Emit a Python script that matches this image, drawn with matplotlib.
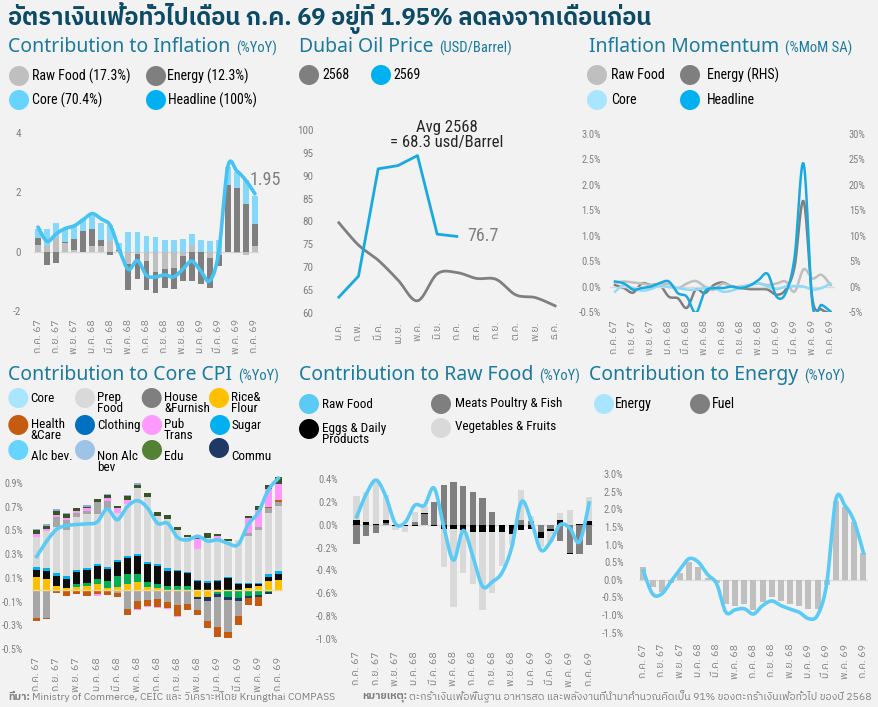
import numpy as np
import matplotlib
matplotlib.use('Agg')
import matplotlib.pyplot as plt
from matplotlib import font_manager as fm
from matplotlib.patches import Ellipse

# ---------------- DATA ----------------
months_lbl = ['ก.ค. 67', 'ก.ย. 67', 'พ.ย. 67', 'ม.ค. 68', 'มี.ค. 68', 'พ.ค. 68', 'ก.ค. 68',
              'ก.ย. 68', 'พ.ย. 68', 'ม.ค. 69', 'มี.ค. 69', 'พ.ค. 69', 'ก.ค. 69']
n_months = 25

# Contribution to Inflation (%YoY)
infl_raw = [0.22, 0.20, 0.45, 0.30, 0.05, 0.00, 0.20, 0.20, 0.35, 0.03, -0.41, -0.08, -0.30,
            -0.67, -0.60, -0.55, -0.15, 0.20, -0.02, -0.20, -0.10, 0.00, -0.05, -0.12, 0.20]
infl_energy = [0.25, -0.45, -0.38, 0.02, 0.38, 0.68, 0.55, 0.18, -0.12, 0.02, -0.89, -0.85, -1.00,
               -0.71, -0.62, -0.72, -0.85, -0.99, -1.08, -1.04, -0.37, 2.25, 2.15, 1.60, 0.74]
infl_core = [0.28, 0.58, 0.50, 0.48, 0.45, 0.42, 0.45, 0.60, 0.55, 0.25, 0.65, 0.65, 0.52,
             0.50, 0.40, 0.40, 0.42, 0.39, 0.40, 0.37, 0.40, 0.62, 0.55, 0.80, 0.93]
infl_headline = [0.83, 0.35, 0.60, 0.78, 0.87, 1.08, 1.28, 1.10, 0.88, 0.05, -0.60, -0.30, -0.80,
                 -0.85, -0.78, -0.85, -0.60, -0.32, -0.65, -0.98, 0.00, 2.87, 2.72, 2.40, 1.95]

# Dubai oil price (USD/Barrel)
oil_months = ['ม.ค.', 'ก.พ.', 'มี.ค.', 'เม.ย.', 'พ.ค.', 'มิ.ย.', 'ก.ค.', 'ส.ค.', 'ก.ย.', 'ต.ค.', 'พ.ย.', 'ธ.ค.']
oil_2568 = [79.7, 74.8, 71.5, 67.2, 62.6, 68.5, 68.8, 67.5, 67.3, 63.9, 63.3, 61.5]
oil_2569 = [63.4, 68.0, 91.5, 92.2, 94.4, 77.2, 76.7]

# Inflation momentum (%MoM SA)
mom_headline = [0.10, 0.06, -0.06, -0.03, 0.00, 0.07, 0.10, -0.13, -0.20, -0.52, -0.10, -0.03, -0.03,
                0.00, -0.03, 0.02, 0.13, 0.25, -0.20, -0.13, 0.58, 2.42, -0.36, -0.36, -0.49]
mom_energy = [0.3, -0.3, -1.2, 0.6, 0.3, 0.3, -2.0, -2.3, -4.2, -0.6, -1.3, 0.3, 0.8,
              0.0, -0.3, -0.5, -0.5, -0.6, -1.6, -0.6, 3.9, 16.8, -2.6, -4.5, -5.3]
mom_raw = [0.08, 0.10, 0.08, 0.06, 0.03, 0.05, 0.05, -0.03, 0.06, 0.11, 0.00, -0.06, 0.06,
           0.00, 0.00, 0.03, 0.06, 0.03, 0.06, 0.10, -0.10, 0.34, 0.16, 0.23, 0.03]
mom_core = [-0.10, 0.03, -0.03, -0.08, -0.05, 0.02, -0.01, -0.03, -0.06, -0.06, -0.03, -0.03, -0.10,
            -0.08, -0.02, 0.03, 0.06, 0.00, -0.05, 0.00, 0.01, 0.00, -0.06, -0.03, 0.06]

# Contribution to Core CPI (%YoY)
core_line = [0.28, 0.41, 0.51, 0.54, 0.55, 0.555, 0.57, 0.68, 0.59, 0.70, 0.75, 0.69, 0.56,
             0.56, 0.44, 0.42, 0.45, 0.41, 0.42, 0.39, 0.38, 0.55, 0.65, 0.84, 0.94]
cc_rice = [0.11, 0.09, 0.035, 0.01, 0.02, 0.035, 0.05, 0.015, 0.025, 0.045, 0.065, 0.02, 0.015,
           0.0, 0.0, 0.0, -0.06, -0.065, -0.02, 0.0, 0.0, 0.01, 0.03, 0.07, 0.085]
cc_clothing = [0.0, 0.0, 0.0, 0.0, 0.025, 0.025, 0.04, 0.06, 0.09, 0.085, 0.065, 0.045, 0.03,
               0.03, 0.035, 0.03, 0.0, 0.0, -0.02, -0.065, -0.07, -0.05, -0.045, -0.02, 0.0]
cc_alc = [0.06, 0.07, 0.08, 0.08, 0.10, 0.11, 0.11, 0.10, 0.12, 0.14, 0.15, 0.15, 0.155,
          0.13, 0.12, 0.11, 0.07, 0.06, 0.07, 0.10, 0.05, 0.035, 0.02, 0.035, 0.05]
cc_sugar = [0.02, 0.025, 0.025, 0.025, 0.02, 0.015, 0.015, 0.02, 0.015, 0.015, 0.02, 0.017, 0.02,
            0.02, 0.015, 0.01, 0.015, 0.01, 0.01, 0.01, 0.01, 0.01, 0.01, 0.03, 0.02]
cc_commu = [-0.015, -0.015, -0.015, -0.01, -0.01, -0.015, -0.01, -0.01, -0.01, -0.015, -0.01, -0.01, -0.01,
            -0.015, -0.01, -0.01, -0.015, -0.03, -0.025, -0.02, -0.025, -0.02, -0.02, -0.02, -0.01]
cc_prep = [0.25, 0.31, 0.385, 0.39, 0.45, 0.45, 0.42, 0.48, 0.40, 0.44, 0.56, 0.55, 0.40,
           0.42, 0.33, 0.29, 0.26, 0.365, 0.34, 0.30, 0.36, 0.40, 0.44, 0.51, 0.55]
cc_house = [-0.22, -0.22, 0.09, 0.08, 0.03, 0.03, 0.10, 0.07, -0.02, -0.15, -0.085, -0.08, -0.07,
            -0.09, -0.12, -0.11, -0.10, -0.17, -0.25, -0.27, -0.13, 0.02, 0.03, 0.04, 0.035]
cc_health = [-0.025, -0.01, -0.01, -0.04, -0.03, -0.035, -0.03, -0.035, -0.03, -0.05, -0.065, -0.05, -0.065,
             -0.05, -0.09, -0.05, -0.04, -0.06, -0.085, -0.05, -0.07, -0.06, -0.07, 0.01, 0.02]
cc_pub = [0.03, 0.02, 0.015, 0.02, 0.02, 0.02, -0.015, 0.03, 0.035, 0.035, -0.01, -0.01, -0.01,
          -0.01, -0.01, 0.0, 0.08, 0.0, 0.03, 0.0, 0.0, 0.13, 0.14, 0.15, 0.13]
cc_edu = [0.03, 0.02, 0.035, 0.03, 0.025, 0.015, 0.03, 0.02, 0.02, 0.03, 0.025, 0.035, 0.035,
          0.03, 0.025, 0.02, 0.02, 0.045, 0.02, 0.02, 0.0, 0.02, 0.035, 0.04, 0.06]
cc_nonalc = [0.015, 0.015, 0.015, 0.015, 0.0, 0.01, 0.0, 0.015, 0.0, 0.01, 0.015, 0.0, 0.0,
             0.0, 0.0, 0.0, 0.0, 0.0, 0.0, 0.0, 0.0, 0.0, 0.0, 0.0, 0.0]

# Contribution to Raw Food (%YoY)
rf_line = [0.07, 0.27, 0.39, 0.25, 0.01, 0.02, 0.17, 0.17, 0.32, -0.02, -0.31, -0.05, -0.28,
           -0.54, -0.50, -0.42, -0.20, 0.20, 0.04, -0.22, -0.15, 0.00, -0.03, -0.15, 0.19]
rf_meat = [-0.17, -0.10, -0.07, 0.015, 0.0, 0.0, 0.02, 0.09, 0.20, 0.35, 0.37, 0.34, 0.29,
           0.23, 0.11, 0.0, 0.0, 0.04, 0.035, -0.06, -0.04, -0.14, -0.25, -0.26, -0.18]
rf_eggs = [0.04, 0.02, 0.01, 0.03, -0.01, -0.01, -0.01, 0.01, -0.01, -0.04, -0.04, -0.05, -0.06,
           -0.065, -0.065, -0.065, -0.08, -0.05, -0.04, -0.055, -0.015, 0.04, -0.01, 0.01, 0.03]
rf_veg = [0.21, 0.27, 0.39, 0.215, -0.04, -0.05, 0.09, 0.06, 0.0, -0.33, -0.68, -0.37, -0.46,
          -0.68, -0.53, -0.30, -0.10, 0.26, 0.04, -0.08, -0.10, 0.06, 0.13, 0.0, 0.21]

# Contribution to Energy (%YoY)
en_line = [0.25, -0.40, -0.40, -0.05, 0.30, 0.60, 0.50, 0.15, -0.12, -0.92, -0.85, -0.82, -0.97,
           -0.73, -0.60, -0.73, -0.83, -0.92, -1.10, -1.00, -0.10, 2.28, 2.10, 1.65, 0.77]
en_fuel = [0.37, -0.20, -0.35, -0.10, 0.20, 0.50, 0.37, 0.05, -0.10, -0.68, -0.75, -0.70, -0.85,
           -0.62, -0.50, -0.60, -0.68, -0.75, -0.82, -0.82, -0.15, 2.23, 2.07, 1.65, 0.75]

# ---------------- FONTS ----------------
names = {f.name for f in fm.fontManager.ttflist}


def pick(cands, default='DejaVu Sans'):
    for c in cands:
        if c in names:
            return c
    return default


def find_thai():
    try:
        from fontTools.ttLib import TTFont
    except Exception:
        return None
    flist = sorted(fm.fontManager.ttflist, key=lambda f: (0 if 'thai' in f.name.lower() else 1))
    for f in flist:
        if 'thai' not in f.name.lower() and 'thai' not in f.fname.lower():
            continue
        try:
            tt = TTFont(f.fname, fontNumber=0, lazy=True)
            cm = tt.getBestCmap()
            if cm and 0x0E01 in cm:
                return f.name
        except Exception:
            pass
    for f in flist:
        if 'CJK' in f.name:
            continue
        try:
            tt = TTFont(f.fname, fontNumber=0, lazy=True)
            cm = tt.getBestCmap()
            if cm and 0x0E01 in cm:
                return f.name
        except Exception:
            pass
    return None


THAI = find_thai()
NARROW = pick(['Roboto Condensed', 'Liberation Sans Narrow', 'DejaVu Sans Condensed', 'Roboto'])
HEAD = pick(['Noto Sans', 'Open Sans', 'Roboto'])
fam_thai = ([THAI] if THAI else []) + [NARROW, 'DejaVu Sans']
fam_narrow = [NARROW, 'DejaVu Sans']
fam_head = [HEAD, 'DejaVu Sans']
fam_title = ([THAI] if THAI else []) + [HEAD, 'DejaVu Sans']

# ---------------- FIGURE ----------------
W, H = 879, 707
BG = '#f2f2f2'
TICK = '#808080'
plt.rcParams['font.family'] = fam_narrow
fig = plt.figure(figsize=(W / 100, H / 100), dpi=100, facecolor=BG)


def tpx(x, y, s, **kw):
    return fig.text(x / W, 1 - y / H, s, **kw)


def add_ax(l, t, r, b):
    ax = fig.add_axes([l / W, 1 - b / H, (r - l) / W, (b - t) / H])
    ax.set_facecolor('none')
    for sp in ax.spines.values():
        sp.set_visible(False)
    ax.tick_params(length=0, colors=TICK)
    return ax


def smooth(xs, ys, n=12):
    P = np.column_stack([np.asarray(xs, float), np.asarray(ys, float)])
    P = np.vstack([P[0], P, P[-1]])
    out = []
    t = np.linspace(0, 1, n, endpoint=False)[:, None]
    for i in range(1, len(P) - 2):
        p0, p1, p2, p3 = P[i - 1], P[i], P[i + 1], P[i + 2]
        c = 0.5 * (2 * p1 + (-p0 + p2) * t + (2 * p0 - 5 * p1 + 4 * p2 - p3) * t ** 2
                   + (-p0 + 3 * p1 - 3 * p2 + p3) * t ** 3)
        out.append(c)
    out.append(P[-2][None, :])
    out = np.vstack(out)
    return out[:, 0], out[:, 1]


def stack(ax, x, series, colors, width):
    pos = np.zeros(len(x))
    neg = np.zeros(len(x))
    for vals, c in zip(series, colors):
        v = np.asarray(vals, float)
        bottom = np.where(v >= 0, pos, neg)
        ax.bar(x, v, width, bottom=bottom, color=c, linewidth=0, zorder=2)
        pos += np.where(v > 0, v, 0)
        neg += np.where(v < 0, v, 0)


def pct_labels(vals):
    return [f'{(round(v, 1) + 0.0):.1f}%' for v in vals]


def month_xticks(ax, size=7.5, pad=6):
    ax.set_xticks(np.arange(0, n_months, 2))
    ax.set_xticklabels(months_lbl, rotation=90, fontsize=size, family=fam_thai, color=TICK)
    ax.tick_params(axis='x', pad=pad)
    ax.set_xlim(-0.5, n_months - 0.5)


def dot(x, y, color, r=10):
    fig.add_artist(Ellipse((x / W, 1 - y / H), 2 * r / W, 2 * r / H, transform=fig.transFigure,
                           color=color, lw=0))


def leg(x, y, color, label, tx=None, size=10, r=10, va='center', ty=None):
    dot(x, y, color, r)
    tpx(tx if tx is not None else x + 12, ty if ty is not None else y, label, fontsize=size,
        va=va, ha='left', color='#000000', family=fam_narrow, linespacing=0.85)


renderer = fig.canvas.get_renderer()


def section(x, y, main, sub):
    t = tpx(x, y, main, fontsize=14, color='#1b7a9e', va='center', ha='left', family=fam_head)
    bb = t.get_window_extent(renderer)
    tpx(bb.x1 + 6, y + 1, sub, fontsize=10.5, color='#1b7a9e', va='center', ha='left', family=fam_narrow)


xm = np.arange(n_months)

# ---------------- TITLE ----------------
tpx(8, 18, 'อัตราเงินเฟ้อทั่วไปเดือน ก.ค. 69 อยู่ที่ 1.95% ลดลงจากเดือนก่อน', fontsize=17,
    fontweight='bold', color='#0c4a66', va='center', ha='left', family=fam_title)

section(8, 47, 'Contribution to Inflation', '(%YoY)')
section(299, 47, 'Dubai Oil Price', '(USD/Barrel)')
section(589, 47, 'Inflation Momentum', '(%MoM SA)')
section(8, 375, 'Contribution to Core CPI', '(%YoY)')
section(299, 375, 'Contribution to Raw Food', '(%YoY)')
section(589, 375, 'Contribution to Energy', '(%YoY)')

# ---------------- CHART 1 ----------------
ax1 = add_ax(33.5, 133, 259.5, 311)
ax1.axhline(0, color='#d9d9d9', lw=1, zorder=1)
stack(ax1, xm, [infl_raw, infl_energy, infl_core], ['#bfbfbf', '#7f7f7f', '#86d8fa'], 0.65)
sx, sy = smooth(xm, infl_headline)
ax1.plot(sx, sy, color='#45c3f2', lw=2.6, zorder=3, solid_capstyle='round')
ax1.set_ylim(-2, 4)
ax1.set_yticks([-2, 0, 2, 4])
ax1.set_yticklabels(['-2', '0', '2', '4'], fontsize=8, color=TICK)
ax1.tick_params(axis='y', pad=9)
month_xticks(ax1)
ax1.text(n_months - 1.6, infl_headline[-1] + 0.45, f'{infl_headline[-1]:.2f}', fontsize=13,
         color='#7f7f7f', ha='left', va='center', family=fam_narrow, zorder=4)

leg(19, 76, '#bfbfbf', 'Raw Food (17.3%)', tx=32)
leg(156, 76, '#7f7f7f', 'Energy (12.3%)', tx=167)
leg(19, 100, '#66d4ff', 'Core (70.4%)', tx=32)
leg(156, 100, '#00b0f0', 'Headline (100%)', tx=168)

# ---------------- CHART 2 ----------------
ax2 = add_ax(329, 130, 565, 312.7)
ox = np.arange(len(oil_months))
sx, sy = smooth(ox, oil_2568)
ax2.plot(sx, sy, color='#7f7f7f', lw=2, zorder=2)
ax2.plot(np.arange(len(oil_2569)), oil_2569, color='#19a9e1', lw=2, zorder=3)
ax2.set_ylim(60, 100)
ax2.set_yticks(range(60, 101, 5))
ax2.set_yticklabels([str(v) for v in range(60, 101, 5)], fontsize=8, color=TICK)
ax2.tick_params(axis='y', pad=11)
ax2.set_xlim(-0.5, len(oil_months) - 0.5)
ax2.set_xticks(ox)
ax2.set_xticklabels(oil_months, rotation=90, fontsize=7.5, family=fam_thai, color=TICK)
ax2.tick_params(axis='x', pad=6)
ax2.text(len(oil_2569) - 1 + 0.55, oil_2569[-1], f'{oil_2569[-1]:.1f}', fontsize=13, color='#7f7f7f',
         ha='left', va='center', family=fam_narrow)
tpx(447, 135, 'Avg 2568\n= 68.3 usd/Barrel', fontsize=12, color='#262626', ha='center', va='center',
    family=fam_narrow, linespacing=0.95)

leg(309, 75, '#7f7f7f', '2568', tx=322)
leg(381, 75, '#00b0f0', '2569', tx=393)

# ---------------- CHART 3 ----------------
ax3 = add_ax(610.5, 134, 835, 312)
ax3r = ax3.twinx()
ax3r.set_facecolor('none')
for sp in ax3r.spines.values():
    sp.set_visible(False)
ax3r.tick_params(length=0, colors=TICK)
ax3.axhline(0, color='#d9d9d9', lw=1, zorder=1)
for vals, c, lw in [(mom_raw, '#bfbfbf', 1.8), (mom_core, '#8fdaf7', 1.8)]:
    sx, sy = smooth(xm, vals)
    ax3.plot(sx, sy, color=c, lw=lw, zorder=2)
sx, sy = smooth(xm, mom_energy)
ax3r.plot(sx, sy, color='#7f7f7f', lw=1.8, zorder=3)
sx, sy = smooth(xm, mom_headline)
ax3.plot(sx, sy, color='#19a9e1', lw=1.8, zorder=4)
ax3.set_zorder(ax3r.get_zorder() + 1)
ax3.set_ylim(-0.5, 3.0)
ax3r.set_ylim(-5, 30)
yt3 = np.arange(-0.5, 3.01, 0.5)
ax3.set_yticks(yt3)
ax3.set_yticklabels(pct_labels(yt3), fontsize=7.5, color=TICK)
ax3r.set_yticks(range(-5, 31, 5))
ax3r.set_yticklabels([f'{v}%' for v in range(-5, 31, 5)], fontsize=7.5, color=TICK)
ax3.tick_params(axis='y', pad=7)
ax3r.tick_params(axis='y', pad=10)
month_xticks(ax3)
ax3r.set_xlim(-0.5, n_months - 0.5)

leg(597, 75, '#bfbfbf', 'Raw Food', tx=611)
leg(690, 75, '#7f7f7f', 'Energy (RHS)', tx=707)
leg(597, 100, '#a8e6ff', 'Core', tx=611)
leg(690, 100, '#00b0f0', 'Headline', tx=707)

# ---------------- CHART 4 ----------------
ax4 = add_ax(31.6, 475.8, 283.4, 649)
cc_series = [cc_rice, cc_clothing, cc_alc, cc_sugar, cc_commu, cc_prep, cc_house, cc_health,
             cc_pub, cc_edu, cc_nonalc]
cc_colors = ['#ffc000', '#00b050', '#0d0d0d', '#00b0f0', '#1f3864', '#d9d9d9', '#a6a6a6',
             '#c55a11', '#ff99ff', '#375623', '#8faadc']
stack(ax4, xm, cc_series, cc_colors, 0.7)
ax4.axhline(0, color='#f3dc8c', lw=1, zorder=3)
sx, sy = smooth(xm, core_line)
ax4.plot(sx, sy, color='#5bcbf5', lw=2.6, zorder=4)
ax4.set_ylim(-0.5, 0.96)
yt = np.arange(-0.5, 0.91, 0.2)
ax4.set_yticks(yt)
ax4.set_yticklabels(pct_labels(yt), fontsize=7.2, color=TICK)
ax4.tick_params(axis='y', pad=6)
month_xticks(ax4)

L = 9.5
leg(18.3, 398, '#a8e6ff', 'Core', tx=30.7, size=L)
leg(85, 398, '#d9d9d9', 'Prep\nFood', tx=97, size=L, ty=403)
leg(151.7, 398, '#7f7f7f', 'House\n&Furnish', tx=164, size=L, ty=403)
leg(219, 398, '#ffc000', 'Rice&\nFlour', tx=231, size=L, ty=403)
leg(18.3, 425, '#c55a11', 'Health\n&Care', tx=30.7, size=L, ty=430)
leg(85, 425, '#0070c0', 'Clothing', tx=97, size=L)
leg(152, 425, '#ff99ff', 'Pub\nTrans', tx=164, size=L, ty=430)
leg(220, 425, '#00b0f0', 'Sugar', tx=231, size=L)
leg(18.3, 450, '#66d4ff', 'Alc bev.', tx=30.7, size=L, ty=457)
leg(85, 450, '#9dc3e6', 'Non Alc\nbev', tx=97, size=L, ty=462)
leg(152, 450, '#548235', 'Edu', tx=164, size=L, ty=457)
leg(219, 448, '#1f3864', 'Commu', tx=231, size=L, ty=457)

# ---------------- CHART 5 ----------------
ax5 = add_ax(351.8, 473.3, 594, 639)
ax5.axhline(0, color='#d9d9d9', lw=1, zorder=1)
stack(ax5, xm, [rf_meat, rf_eggs, rf_veg], ['#7f7f7f', '#000000', '#d9d9d9'], 0.65)
sx, sy = smooth(xm, rf_line)
ax5.plot(sx, sy, color='#5bcbf5', lw=2.6, zorder=4)
ax5.set_ylim(-1.0, 0.45)
yt = np.arange(-1.0, 0.41, 0.2)
ax5.set_yticks(yt)
ax5.set_yticklabels(pct_labels(yt), fontsize=7.5, color=TICK)
ax5.tick_params(axis='y', pad=10)
month_xticks(ax5, pad=9)

leg(309, 404, '#5bcbf5', 'Raw Food', tx=322, size=L)
leg(441, 404, '#7f7f7f', 'Meats Poultry & Fish', tx=455, size=L)
leg(309, 429, '#000000', 'Eggs & Daily\nProducts', tx=322, size=L, ty=434)
leg(441, 428, '#d9d9d9', 'Vegetables & Fruits', tx=455, size=L, ty=426)

# ---------------- CHART 6 ----------------
ax6 = add_ax(638.8, 474, 868, 632.7)
ax6.axhline(0, color='#d9d9d9', lw=1, zorder=1)
ax6.bar(xm, en_fuel, 0.65, color='#bfbfbf', linewidth=0, zorder=2)
sx, sy = smooth(xm, en_line)
ax6.plot(sx, sy, color='#5bcbf5', lw=2.6, zorder=4)
ax6.set_ylim(-1.5, 3.0)
yt = np.arange(-1.5, 3.01, 0.5)
ax6.set_yticks(yt)
ax6.set_yticklabels(pct_labels(yt), fontsize=7.5, color=TICK)
ax6.tick_params(axis='y', pad=11)
month_xticks(ax6, pad=8)

leg(604, 404, '#a8e6ff', 'Energy', tx=615, size=L + 0.5)
leg(700, 404, '#7f7f7f', 'Fuel', tx=712, size=L + 0.5)


# ---------------- FOOTER ----------------
def footer(x, y, bold, rest):
    t = tpx(x, y, bold, fontsize=7.5, fontweight='bold', color='#7f7f7f', va='center', ha='left',
            family=fam_thai)
    bb = t.get_window_extent(renderer)
    tpx(bb.x1 + 2, y, rest, fontsize=7.5, color='#7f7f7f', va='center', ha='left', family=fam_thai)


footer(8, 697, 'ที่มา:', 'Ministry of Commerce, CEIC และ วิเคราะห์โดย Krungthai COMPASS')
footer(362, 697, 'หมายเหตุ:', 'ตะกร้าเงินเฟ้อพื้นฐาน อาหารสด และพลังงานที่นำมาคำนวณคิดเป็น 91% ของตะกร้าเงินเฟ้อทั่วไป ของปี 2568')

fig.savefig('out.png', dpi=100, facecolor=BG)
